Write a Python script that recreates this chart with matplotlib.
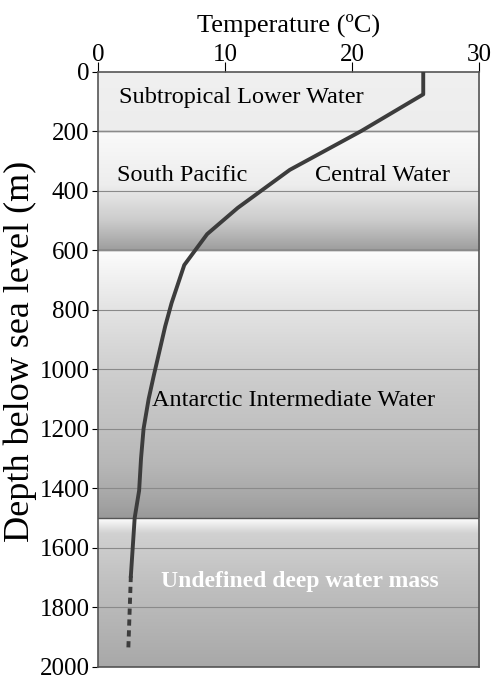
import numpy as np
import matplotlib.pyplot as plt

plt.rcParams['font.family'] = ['Liberation Serif', 'DejaVu Serif']

# temperature profile (degC vs depth in m)
temp_solid = [25.6, 25.6, 20.7, 15.1, 11.0, 8.6, 6.8, 5.8, 5.3, 4.9, 4.4, 4.0, 3.6, 3.4, 3.25, 2.9, 2.6]
depth_solid = [0, 76, 200, 330, 458, 546, 650, 778, 856, 930, 1022, 1100, 1200, 1300, 1408, 1500, 1695]
temp_dash = [2.6, 2.4]
depth_dash = [1695, 1940]

# water mass layers (top, bottom) and their shading profile (pos, grey level)
layers = [(0, 200), (200, 600), (600, 1500), (1500, 2000)]
shades = [
    [(0, 0.94), (1, 0.93)],
    [(0, 0.98), (0.45, 0.93), (0.75, 0.80), (1, 0.62)],
    [(0, 0.99), (0.2, 0.90), (0.45, 0.81), (0.8, 0.72), (0.95, 0.64), (1, 0.60)],
    [(0, 0.99), (0.1, 0.82), (0.4, 0.76), (1, 0.66)],
]

labels = [
    ('Subtropical Lower Water', 1.7, 88, 'normal', 'black'),
    ('South Pacific', 1.5, 350, 'normal', 'black'),
    ('Central Water', 17.1, 350, 'normal', 'black'),
    ('Antarctic Intermediate Water', 4.3, 1105, 'normal', 'black'),
    ('Undefined deep water mass', 5.0, 1715, 'bold', 'white'),
]

fig = plt.figure(figsize=(4.94, 6.83), dpi=100)
ax = fig.add_axes([0.198, 0.024, 0.772, 0.871])

for (top, bot), prof in zip(layers, shades):
    pos, lev = zip(*prof)
    t = np.linspace(0, 1, 200)
    g = np.interp(t, pos, lev)
    img = np.repeat(g[:, None], 3, axis=1)[:, None, :]
    ax.imshow(img, extent=[0, 30, bot, top], aspect='auto', interpolation='bilinear',
              zorder=0)
    ax.axhline(bot, color='#555555', lw=1.0, zorder=1)

for d in range(200, 2000, 200):
    ax.axhline(d, color='#8a8a8a', lw=0.8, zorder=1)

ax.plot(temp_solid, depth_solid, color='#3c3c3c', lw=2.8, zorder=3, solid_joinstyle='round')
ax.plot(temp_dash, depth_dash, color='#3c3c3c', lw=2.8, ls=(0, (1.6, 1.2)), zorder=3)

for txt, x, y, w, c in labels:
    ax.text(x, y, txt, fontsize=17.5 if w == 'normal' else 17, fontweight=w, color=c,
            va='center', ha='left', zorder=4)

ax.set_xlim(0, 30)
ax.set_ylim(2000, 0)
ax.xaxis.tick_top()
ax.xaxis.set_label_position('top')
ax.set_xticks([0, 10, 20, 30])
ax.set_yticks(range(0, 2001, 200))
ax.tick_params(axis='x', direction='out', length=7, pad=-3, labelsize=18)
ax.tick_params(axis='y', direction='out', length=4, pad=2, labelsize=18)
ax.set_xlabel('Temperature (ºC)', fontsize=19, labelpad=9)
ax.set_ylabel('Depth below sea level (m)', fontsize=26)
ax.yaxis.set_label_coords(-0.16, 0.53)
for s in ax.spines.values():
    s.set_color('#555555')
    s.set_linewidth(1.2)

fig.savefig('out.png', dpi=100)
